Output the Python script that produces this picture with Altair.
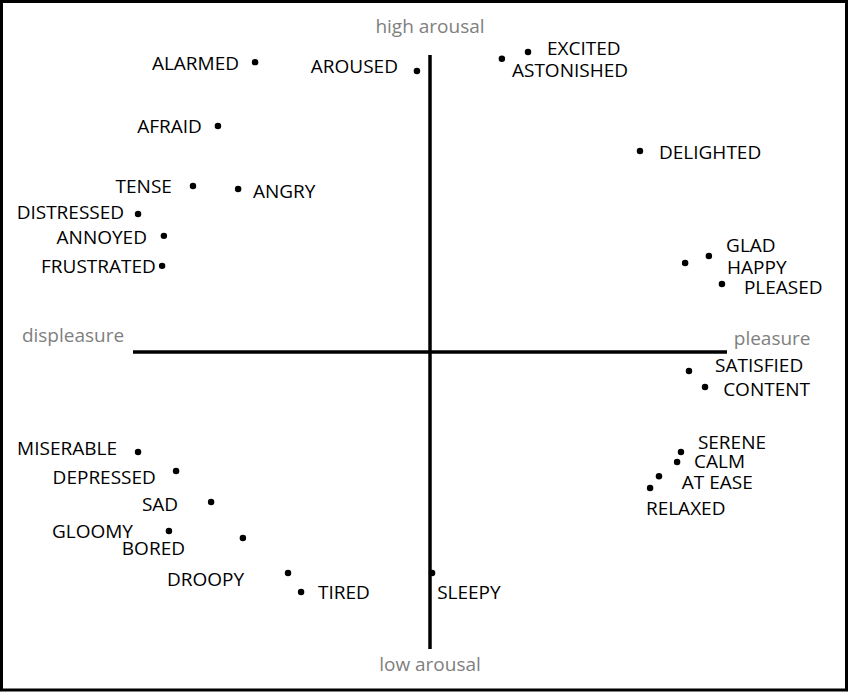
import altair as alt
import pandas as pd

# Emotion words: position on valence (pleasure) / arousal axes
words = ["ALARMED", "AROUSED", "EXCITED", "ASTONISHED", "AFRAID", "DELIGHTED",
         "TENSE", "ANGRY", "DISTRESSED", "ANNOYED", "FRUSTRATED", "GLAD", "HAPPY",
         "PLEASED", "SATISFIED", "CONTENT", "SERENE", "CALM", "AT EASE", "RELAXED",
         "MISERABLE", "DEPRESSED", "SAD", "GLOOMY", "BORED", "DROOPY", "TIRED", "SLEEPY"]
valence = [-0.589, -0.044, 0.330, 0.242, -0.714, 0.707,
           -0.798, -0.646, -0.983, -0.896, -0.902, 0.939, 0.859,
           0.983, 0.872, 0.926, 0.845, 0.832, 0.771, 0.741,
           -0.983, -0.855, -0.737, -0.879, -0.630, -0.478, -0.434, 0.007]
arousal = [0.976, 0.946, 1.010, 0.987, 0.761, 0.677,
           0.559, 0.549, 0.465, 0.391, 0.290, 0.323, 0.300,
           0.229, -0.064, -0.118, -0.337, -0.370, -0.418, -0.458,
           -0.337, -0.401, -0.505, -0.603, -0.626, -0.744, -0.808, -0.744]

# Label anchor points (same units) and which side of the anchor the text sits
label_x = [-0.643, -0.108, 0.394, 0.276, -0.768, 0.771,
           -0.869, -0.596, -1.030, -0.953, -0.923, 0.997, 1.000,
           1.057, 0.960, 0.987, 0.902, 0.889, 0.848, 0.727,
           -1.054, -0.923, -0.848, -1.000, -0.825, -0.626, -0.377, 0.024]
label_y = [0.973, 0.963, 1.024, 0.949, 0.761, 0.673,
           0.559, 0.542, 0.471, 0.387, 0.290, 0.360, 0.286,
           0.219, -0.044, -0.125, -0.303, -0.367, -0.438, -0.525,
           -0.323, -0.421, -0.512, -0.603, -0.660, -0.764, -0.808, -0.808]
label_align = ["right", "right", "left", "left", "right", "left",
               "right", "left", "right", "right", "right", "left", "left",
               "left", "left", "left", "left", "left", "left", "left",
               "right", "right", "right", "right", "right", "right", "left", "left"]

# Axis pole names
pole_names = ["high arousal", "low arousal", "displeasure", "pleasure"]
pole_x = [0.0, 0.0, -1.202, 1.152]
pole_y = [1.094, -1.054, 0.054, 0.043]

# Axis segments
seg_x = [-1.0, 0.0]
seg_x2 = [1.0, 0.0]
seg_y = [0.0, -1.0]
seg_y2 = [0.0, 1.0]

W, H = 850, 696
FONT = "Open Sans"

pts = pd.DataFrame({"word": words, "v": valence, "a": arousal,
                    "lx": label_x, "ly": label_y, "side": label_align})
poles = pd.DataFrame({"name": pole_names, "x": pole_x, "y": pole_y})
segs = pd.DataFrame({"x": seg_x, "x2": seg_x2, "y": seg_y, "y2": seg_y2})

xs = alt.Scale(domain=[-430 / 297, 420 / 297], nice=False, zero=False)
ys = alt.Scale(domain=[-344 / 297, 352 / 297], nice=False, zero=False)

frame = alt.Chart(pd.DataFrame({"k": [0]})).mark_rect(
    fill="transparent", stroke="black", strokeWidth=3
).encode(x=alt.value(1.5), x2=alt.value(846.5), y=alt.value(1.5), y2=alt.value(690))

axes = alt.Chart(segs).mark_rule(color="black", strokeWidth=3.5).encode(
    x=alt.X("x:Q", scale=xs, axis=None),
    x2="x2:Q",
    y=alt.Y("y:Q", scale=ys, axis=None),
    y2="y2:Q",
)

dots = alt.Chart(pts).mark_circle(color="black", opacity=1, size=42).encode(
    x=alt.X("v:Q", scale=xs, axis=None),
    y=alt.Y("a:Q", scale=ys, axis=None),
)

def labels(side):
    return alt.Chart(pts).transform_filter(
        alt.datum.side == side
    ).mark_text(
        align=side, baseline="middle", font=FONT, fontSize=19, color="black", dy=1
    ).encode(
        x=alt.X("lx:Q", scale=xs, axis=None),
        y=alt.Y("ly:Q", scale=ys, axis=None),
        text="word:N",
    )

pole_text = alt.Chart(poles).mark_text(
    align="center", baseline="middle", font=FONT, fontSize=19, color="#808080"
).encode(
    x=alt.X("x:Q", scale=xs, axis=None),
    y=alt.Y("y:Q", scale=ys, axis=None),
    text="name:N",
)

chart = alt.layer(frame, axes, dots, labels("left"), labels("right"), pole_text).properties(
    width=W, height=H, padding=0, autosize=alt.AutoSizeParams(type="none"),
    background="white",
).configure_view(stroke=None)

chart.save("out.html", embed_options={"renderer": "svg", "actions": False})
